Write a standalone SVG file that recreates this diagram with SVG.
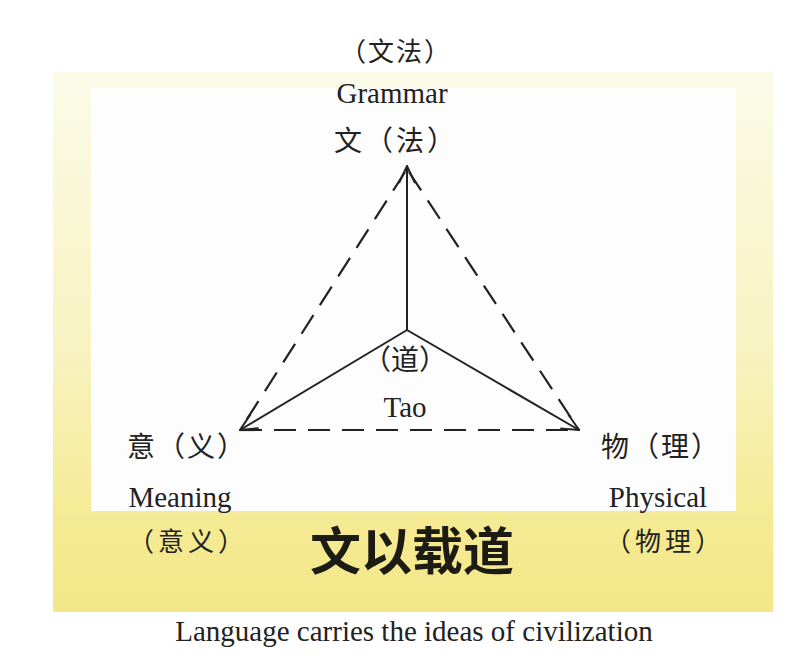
<svg xmlns="http://www.w3.org/2000/svg" width="799" height="670" viewBox="0 0 799 670">
<defs>
<linearGradient id="yg" x1="0" y1="0" x2="0" y2="1">
<stop offset="0" stop-color="#fbfbe9"/>
<stop offset="0.5" stop-color="#f8f3c2"/>
<stop offset="0.85" stop-color="#f5ea91"/>
<stop offset="1" stop-color="#f3e78a"/>
</linearGradient>
<marker id="arr" viewBox="0 0 20 20" refX="19" refY="10" markerWidth="20" markerHeight="20" markerUnits="userSpaceOnUse" orient="auto">
<path d="M2,2 L19,10 L2,18" fill="none" stroke="#222" stroke-width="2"/>
</marker>
<style>
.cn{font-family:"Noto Sans CJK SC","Liberation Serif",serif;font-size:28px;fill:#222}
.cs{font-family:"Noto Sans CJK SC","Liberation Serif",serif;font-size:26px;fill:#222;letter-spacing:4px}
.en{font-family:"Liberation Serif",serif;font-size:29px;fill:#222;text-anchor:middle}
.solid{stroke:#222;stroke-width:2;fill:none}
.dash{stroke:#222;stroke-width:2.2;fill:none;stroke-dasharray:22 12}
</style>
</defs>
<rect width="799" height="670" fill="#ffffff"/>
<rect x="53" y="72" width="720" height="540" fill="url(#yg)"/>
<rect x="91" y="88" width="645" height="423" fill="#fdfdfd"/>
<g id="connectors">
<line class="dash" x1="405" y1="172" x2="240" y2="430"/>
<line class="dash" x1="409" y1="172" x2="579" y2="430"/>
<line class="dash" x1="240" y1="430" x2="579" y2="430"/>
<line class="solid" x1="407" y1="330" x2="407" y2="166" marker-end="url(#arr)"/>
<line class="solid" x1="407" y1="330" x2="240" y2="430" marker-end="url(#arr)"/>
<line class="solid" x1="407" y1="330" x2="579" y2="430" marker-end="url(#arr)"/>
</g>
<g id="grammar">
<text class="cs" x="340" y="61" font-size="25" style="letter-spacing:2px">（文法）</text>
<text class="en" x="392" y="103">Grammar</text>
<text class="cn" x="334" y="151" style="letter-spacing:3px">文（法）</text>
</g>
<g id="tao">
<text class="cn" x="405" y="370" text-anchor="middle">（道）</text>
<text class="en" x="405" y="417" font-size="28">Tao</text>
</g>
<g id="meaning">
<text class="cn" x="127" y="457" style="letter-spacing:2px">意（义）</text>
<text class="en" x="180" y="507">Meaning</text>
<text class="cs" x="128" y="551">（意义）</text>
</g>
<g id="physical">
<text class="cn" x="601" y="457" style="letter-spacing:2px">物（理）</text>
<text class="en" x="658" y="507">Physical</text>
<text class="cs" x="605" y="551">（物理）</text>
</g>
<g id="title">
<text x="412" y="570" font-family="'Noto Sans CJK SC',sans-serif" font-size="51" font-weight="bold" fill="#1c1b14" text-anchor="middle">文以载道</text>
</g>
<g id="caption">
<text class="en" x="414" y="641" font-size="29.5">Language carries the ideas of civilization</text>
</g>
</svg>
